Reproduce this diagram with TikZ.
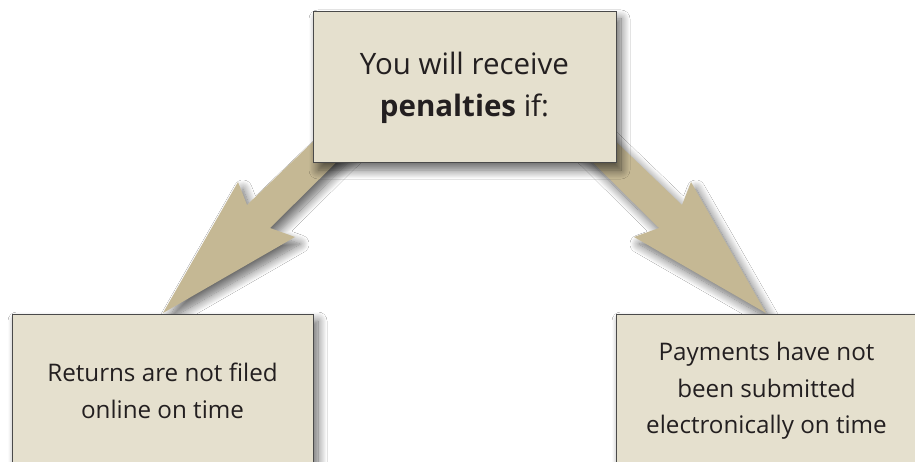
\documentclass[tikz,border=0pt]{standalone}
\usepackage{fontspec}
\setmainfont{Open Sans}
\usetikzlibrary{shadows.blur}
\definecolor{boxfill}{HTML}{E5E0CE}
\definecolor{arrowfill}{HTML}{C5B894}
\definecolor{boxline}{HTML}{4A4A4A}
\definecolor{txt}{HTML}{231F20}
\tikzset{
  softshadow/.style={blur shadow={shadow xshift=5pt, shadow yshift=-7pt, shadow blur radius=9pt, shadow blur steps=14, shadow opacity=60}},
  card/.style={draw=boxline, line width=1pt, fill=boxfill, text=txt, align=center, inner sep=0pt, softshadow},
  bigarrow/.style={fill=arrowfill, draw=none, softshadow},
}
\begin{document}
\begin{tikzpicture}[x=1pt,y=-1pt]
\useasboundingbox (0,0) rectangle (915,462);
\fill[white] (0,0) rectangle (915,462);
% arrows (behind the top box)
\path[bigarrow] (346,110) -- (247,205) -- (238,182) -- (163,313) -- (295,237) -- (270,228) -- (368,131) -- cycle;
\path[bigarrow] (583,110) -- (682,205) -- (691,182) -- (766,313) -- (634,237) -- (659,228) -- (561,131) -- cycle;
% boxes
\node[card, minimum width=303pt, minimum height=151pt,
      font=\fontsize{29.5}{42}\selectfont] (top) at (464.5,87.5)
  {You will receive\\ \textbf{penalties} if:};
\node[card, minimum width=301pt, minimum height=154pt,
      font=\fontsize{24.2}{37}\selectfont] (left) at (162.5,391)
  {Returns are not filed\\ online on time};
\node[card, minimum width=301pt, minimum height=154pt,
      font=\fontsize{24.2}{36.5}\selectfont] (right) at (766.5,391)
  {Payments have not\\ been submitted\\ electronically on time};
\end{tikzpicture}
\end{document}
